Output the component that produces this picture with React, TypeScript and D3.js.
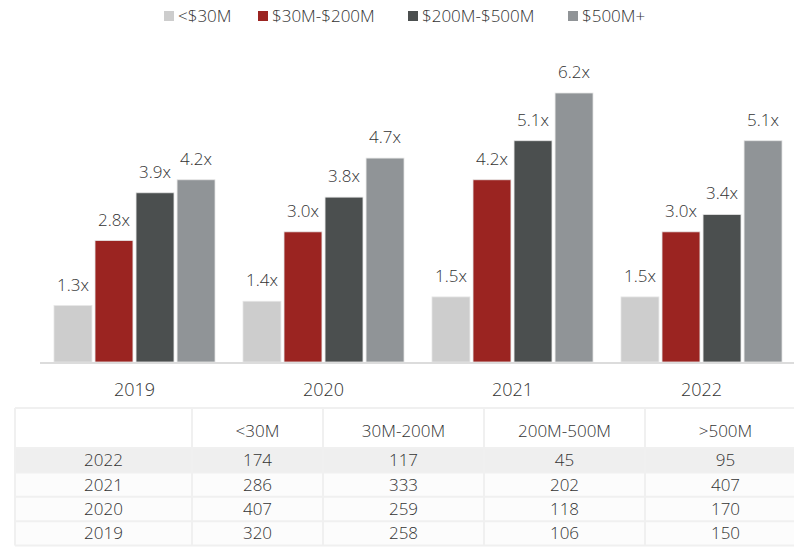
import React from "react";
import * as d3 from "d3";

const years = ["2019", "2020", "2021", "2022"];
const seriesNames = ["<$30M", "$30M-$200M", "$200M-$500M", "$500M+"];
const colors = ["#cdcdcd", "#9b2421", "#4b4f4f", "#909497"];
const multiples: number[][] = [
  [1.3, 2.8, 3.9, 4.2],
  [1.4, 3.0, 3.8, 4.7],
  [1.5, 4.2, 5.1, 6.2],
  [1.5, 3.0, 3.4, 5.1],
];
const tableHeaders = ["", "<30M", "30M-200M", "200M-500M", ">500M"];
const tableYears = ["2022", "2021", "2020", "2019"];
const tableValues: number[][] = [
  [174, 117, 45, 95],
  [286, 333, 202, 407],
  [407, 259, 118, 170],
  [320, 258, 106, 150],
];

const W = 794;
const H = 547;
const FONT = "'Open Sans', Lato, sans-serif";
const TEXT = "#333";
const FS = 17;

export default function App() {
  const baseY = 362;
  const x0 = d3.scaleBand<string>().domain(years).range([40, 796]).paddingInner(0.148).paddingOuter(0.074);
  const x1 = d3.scaleBand<string>().domain(seriesNames).range([0, x0.bandwidth()]).paddingInner(0.075);
  const y = d3.scaleLinear().domain([0, 6.2]).range([baseY, 93]);

  const legendX = [164, 258, 408, 568];

  const colEdges = [15, 192, 323, 484, 645, 806];
  const headerTop = 408;
  const headerBottom = 448;
  const rowH = 24.4;

  return (
    <svg width={W} height={H} style={{ position: "absolute", left: 0, top: 0 }} fontFamily={FONT} fontWeight={300}>
      <rect width={W} height={H} fill="#fff" />
      {/* legend */}
      {seriesNames.map((s, i) => (
        <g key={s} transform={`translate(${legendX[i]},0)`}>
          <rect x={0} y={11} width={10} height={10} fill={colors[i]} />
          <text x={14} y={22} fontSize={FS} fill={TEXT}>{s}</text>
        </g>
      ))}
      {/* bars */}
      {years.map((yr, gi) => (
        <g key={yr} transform={`translate(${x0(yr)},0)`}>
          {seriesNames.map((s, si) => {
            const v = multiples[gi][si];
            const bx = x1(s)!;
            return (
              <g key={s}>
                <rect x={bx} y={y(v)} width={x1.bandwidth()} height={baseY - y(v)} fill={colors[si]} stroke="#e6e6e6" strokeWidth={0.8} />
                <text x={bx + x1.bandwidth() / 2} y={y(v) - 15} textAnchor="middle" fontSize={FS} fill={TEXT}>
                  {v.toFixed(1) + "x"}
                </text>
              </g>
            );
          })}
          <text x={x0.bandwidth() / 2} y={396} textAnchor="middle" fontSize={18} fill={TEXT}>{yr}</text>
        </g>
      ))}
      <line x1={40} x2={W} y1={baseY + 1} y2={baseY + 1} stroke="#dcdcdc" strokeWidth={2} />
      {/* table */}
      <rect x={colEdges[0]} y={headerTop} width={colEdges[5] - colEdges[0]} height={headerBottom - headerTop} fill="#fff" />
      {tableYears.map((ty, ri) => (
        <rect key={"bg" + ty} x={colEdges[0]} y={headerBottom + ri * rowH} width={colEdges[5] - colEdges[0]} height={rowH}
          fill={ri === 0 ? "#efefef" : "#fcfcfc"} />
      ))}
      {[headerTop, headerBottom, ...tableYears.map((_, ri) => headerBottom + (ri + 1) * rowH)].map((ly, i) => (
        <line key={"h" + i} x1={colEdges[0]} x2={colEdges[5]} y1={ly} y2={ly} stroke="#f0f0f0" strokeWidth={2} />
      ))}
      {colEdges.slice(0, 5).map((cx, i) => (
        <line key={"v" + i} x1={cx} x2={cx} y1={headerTop} y2={headerBottom + tableYears.length * rowH} stroke="#f0f0f0" strokeWidth={2} />
      ))}
      {tableHeaders.map((h, ci) => (
        <text key={"th" + ci} x={(colEdges[ci] + colEdges[ci + 1]) / 2} y={437} textAnchor="middle" fontSize={FS} fill={TEXT}>{h}</text>
      ))}
      {tableYears.map((ty, ri) => {
        const cy = headerBottom + ri * rowH + rowH / 2 + 6;
        return (
          <g key={"r" + ty}>
            <text x={(colEdges[0] + colEdges[1]) / 2} y={cy} textAnchor="middle" fontSize={FS} fill={TEXT}>{ty}</text>
            {tableValues[ri].map((v, ci) => (
              <text key={ci} x={(colEdges[ci + 1] + colEdges[ci + 2]) / 2} y={cy} textAnchor="middle" fontSize={FS} fill={TEXT}>{v}</text>
            ))}
          </g>
        );
      })}
    </svg>
  );
}
